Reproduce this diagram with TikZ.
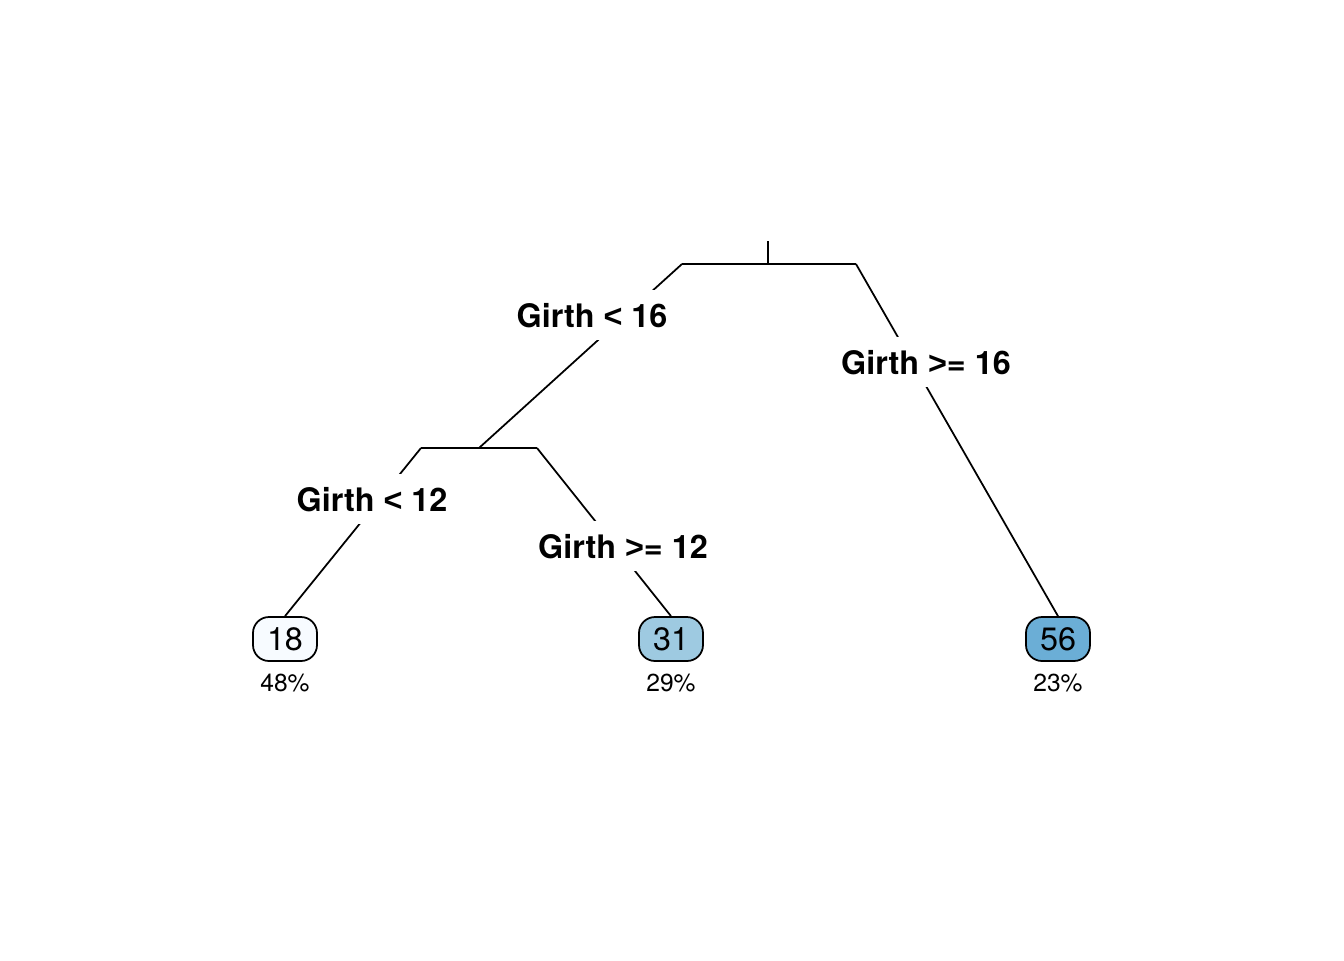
\documentclass[tikz,border=0pt]{standalone}
\usepackage{fontspec}
\setmainfont{TeX Gyre Heros}
\newfontfamily\relfont{Liberation Sans}
\newcommand{\lt}{{\relfont <}}
\newcommand{\gt}{{\relfont >}}
\definecolor{leafa}{HTML}{F7FBFF}
\definecolor{leafb}{HTML}{9ECAE1}
\definecolor{leafc}{HTML}{6BAED6}
\tikzset{
  split/.style = {fill = white, inner xsep = 1pt, inner ysep = 0.12cm, text height = 0.72em, text depth = 0pt, font = \fontsize{9.2}{11}\selectfont\bfseries},
  leaf/.style = {draw, rounded corners = 0.16cm, minimum width = 0.64cm, minimum height = 0.44cm, inner sep = 0pt, font = \fontsize{9.2}{11}\selectfont},
  pct/.style = {inner sep = 0pt, font = \fontsize{7}{8}\selectfont}
}
\begin{document}
\begin{tikzpicture}[line width = 0.5pt]
					\useasboundingbox (0, 0) rectangle (13.44, -9.6);
					\coordinate (stub) at (7.68, -2.41);
					\coordinate (rootmid) at (7.68, -2.64);
					\coordinate (rootL) at (6.82, -2.64);
					\coordinate (rootR) at (8.56, -2.64);
					\coordinate (midL) at (4.21, -4.48);
					\coordinate (midC) at (4.79, -4.48);
					\coordinate (midR) at (5.37, -4.48);
					\node[leaf, fill = leafa] (n18) at (2.85, -6.39) {18};
					\node[leaf, fill = leafb] (n31) at (6.71, -6.39) {31};
					\node[leaf, fill = leafc] (n56) at (10.58, -6.39) {56};
					\node[pct] (p18) at (2.85, -6.83) {48\%};
					\node[pct] (p31) at (6.71, -6.83) {29\%};
					\node[pct] (p56) at (10.58, -6.83) {23\%};
					\draw (stub) -- (rootmid);
					\draw (rootL) -- (rootR);
					\draw (rootL) -- (midC);
					\draw (rootR) -- (n56.north);
					\draw (midL) -- (midR);
					\draw (midL) -- (n18.north);
					\draw (midR) -- (n31.north);
					\node[split] (sL) at (5.92, -3.15) {Girth \lt{} 16};
					\node[split] (sR) at (9.26, -3.62) {Girth \gt= 16};
					\node[split] (sLL) at (3.72, -4.99) {Girth \lt{} 12};
					\node[split] (sLR) at (6.23, -5.46) {Girth \gt= 12};
				\end{tikzpicture}
\end{document}
